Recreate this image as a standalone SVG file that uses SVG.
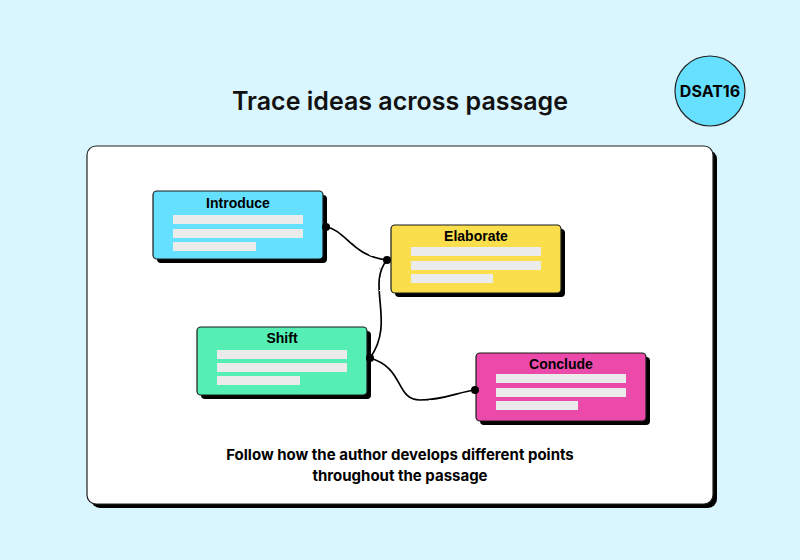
<svg xmlns="http://www.w3.org/2000/svg" width="800" height="560" viewBox="0 0 800 560">
<style>
.shadow{fill:#000}
.box{stroke:#1a1a1a;stroke-width:1.2}
.bar{fill:#ebebeb}
.ttl{font-family:"Liberation Sans",Arial,sans-serif;font-weight:bold;font-size:14px;fill:#000;text-anchor:middle}
.wire{fill:none;stroke:#000;stroke-width:1.7;filter:url(#rough)}
.dot{fill:#000}
.cap{font-family:Inter,"Liberation Sans",sans-serif;font-weight:700;font-size:15px;fill:#000;text-anchor:middle}
</style>
<defs>
<filter id="rough" x="-10%" y="-10%" width="120%" height="120%">
<feTurbulence type="fractalNoise" baseFrequency="0.12" numOctaves="2" seed="3"/>
<feDisplacementMap in="SourceGraphic" scale="2"/>
</filter>
</defs>
<rect width="800" height="560" fill="#d9f5fd"/>
<g id="panel">
<rect x="91" y="150" width="626" height="358" rx="9" fill="#000"/>
<rect x="87" y="146" width="626" height="358" rx="9" fill="#fff" stroke="#222" stroke-width="1.2"/>
</g>
<g id="title">
<text x="400" y="110" font-family="Inter,'Liberation Sans',sans-serif" font-weight="600" font-size="25" text-anchor="middle" fill="#111">Trace ideas across passage</text>
</g>
<g id="badge">
<circle cx="710" cy="91" r="35" fill="#66e0fe" stroke="#222" stroke-width="1.2"/>
<text x="710" y="97" font-family="Inter,'Liberation Sans',sans-serif" font-weight="bold" font-size="16" text-anchor="middle" fill="#000">DSAT16</text>
</g>
<g id="connectors">
<path class="wire" d="M326,227 C346,230 352,256 387,260"/>
<path class="wire" d="M387,260 C366,285 396,322 370,358"/>
<path class="wire" d="M370,358 C405,368 395,400 420,400 C445,400 458,392 475,390"/>
</g>
<g id="introduce">
<rect class="shadow" x="157" y="195" width="170" height="68" rx="4"/>
<rect class="box" x="153" y="191" width="170" height="68" rx="4" fill="#66e0ff"/>
<text class="ttl" x="238" y="208">Introduce</text>
<rect class="bar" x="173" y="215" width="130" height="9"/>
<rect class="bar" x="173" y="229" width="130" height="9"/>
<rect class="bar" x="173" y="242" width="83" height="9"/>
</g>
<g id="elaborate">
<rect class="shadow" x="395" y="229" width="170" height="68" rx="4"/>
<rect class="box" x="391" y="225" width="170" height="68" rx="4" fill="#fade4b"/>
<text class="ttl" x="476" y="241">Elaborate</text>
<rect class="bar" x="411" y="247" width="130" height="9"/>
<rect class="bar" x="411" y="261" width="130" height="9"/>
<rect class="bar" x="411" y="274" width="82" height="9"/>
</g>
<g id="shift">
<rect class="shadow" x="201" y="331" width="170" height="68" rx="4"/>
<rect class="box" x="197" y="327" width="170" height="68" rx="4" fill="#55eeb4"/>
<text class="ttl" x="282" y="343">Shift</text>
<rect class="bar" x="217" y="350" width="130" height="9"/>
<rect class="bar" x="217" y="363" width="130" height="9"/>
<rect class="bar" x="217" y="376" width="83" height="9"/>
</g>
<g id="conclude">
<rect class="shadow" x="480" y="357" width="170" height="68" rx="4"/>
<rect class="box" x="476" y="353" width="170" height="68" rx="4" fill="#ec4aaa"/>
<text class="ttl" x="561" y="369">Conclude</text>
<rect class="bar" x="496" y="374" width="130" height="9"/>
<rect class="bar" x="496" y="388" width="130" height="9"/>
<rect class="bar" x="496" y="401" width="82" height="9"/>
</g>
<g id="dots">
<circle class="dot" cx="326" cy="227" r="4"/>
<circle class="dot" cx="387" cy="260" r="4"/>
<circle class="dot" cx="370" cy="358" r="4"/>
<circle class="dot" cx="475" cy="390" r="4"/>
</g>
<g id="caption">
<text class="cap" x="400" y="460">Follow how the author develops different points</text>
<text class="cap" x="400" y="481">throughout the passage</text>
</g>
</svg>
